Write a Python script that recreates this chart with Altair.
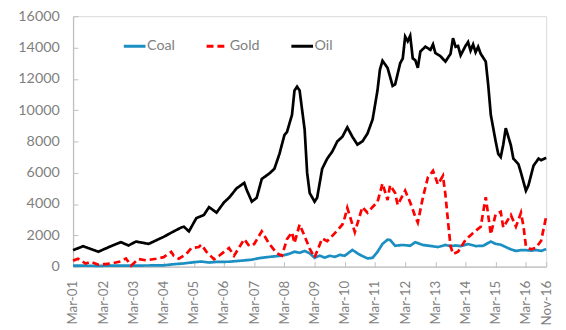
import altair as alt
import pandas as pd

# ---------------- data ----------------
series_names = ["Coal", "Gold", "Oil"]
series_colors = ["#1b8ec2", "#ff0000", "#000000"]

oil_dates = ["2001-03", "2001-07", "2002-01", "2002-06", "2002-10", "2003-01", "2003-04", "2003-09",
             "2003-11", "2004-03", "2004-07", "2004-10", "2004-11", "2005-01", "2005-04", "2005-07",
             "2005-09", "2005-12", "2006-03", "2006-05", "2006-08", "2006-11", "2006-12", "2007-02",
             "2007-04", "2007-06", "2007-09", "2007-11", "2008-01", "2008-03", "2008-04", "2008-06",
             "2008-07", "2008-08", "2008-09", "2008-11", "2008-12", "2009-01", "2009-03", "2009-04",
             "2009-06", "2009-08", "2009-10", "2009-12", "2010-02", "2010-04", "2010-06", "2010-08",
             "2010-10", "2010-12", "2011-02", "2011-04", "2011-05", "2011-06", "2011-08", "2011-10",
             "2011-11", "2012-01", "2012-02", "2012-03", "2012-04", "2012-05", "2012-06", "2012-07",
             "2012-08", "2012-09", "2012-11", "2013-01", "2013-02", "2013-03", "2013-05", "2013-07",
             "2013-09", "2013-10", "2013-11", "2013-12", "2014-01", "2014-03", "2014-04", "2014-05",
             "2014-06", "2014-07", "2014-08", "2014-09", "2014-11", "2014-12", "2015-01", "2015-03",
             "2015-04", "2015-05", "2015-06", "2015-07", "2015-09", "2015-10", "2015-12", "2016-01",
             "2016-03", "2016-04", "2016-06", "2016-08", "2016-09", "2016-11"]
oil_values = [1050, 1300, 950, 1300, 1560, 1350, 1600, 1450,
              1600, 1900, 2250, 2500, 2550, 2250, 3100, 3300,
              3800, 3450, 4100, 4400, 5000, 5350, 4900, 4150,
              4400, 5600, 5950, 6250, 7200, 8400, 8600, 9700,
              11250, 11500, 11250, 8750, 6000, 4700, 4150, 4400,
              6250, 6900, 7350, 8000, 8300, 8900, 8300, 7800,
              8000, 8500, 9400, 11250, 12600, 13150, 12700, 11550,
              11650, 13000, 13300, 14700, 14400, 14750, 13300, 13200,
              12700, 13750, 14050, 13850, 14200, 13650, 13450, 13100,
              13600, 14600, 14050, 14100, 13500, 14100, 14350, 13800,
              14200, 13700, 14050, 13600, 13100, 11600, 9700, 8000,
              7200, 7000, 7800, 8850, 7750, 6900, 6550, 6000,
              4850, 5200, 6450, 6900, 6800, 6950]

gold_dates = ["2001-03", "2001-05", "2001-08", "2001-10", "2002-01", "2002-06", "2002-10", "2002-12",
              "2003-02", "2003-05", "2003-08", "2003-12", "2004-03", "2004-06", "2004-07", "2004-09",
              "2004-12", "2005-02", "2005-05", "2005-06", "2005-08", "2005-11", "2006-01", "2006-03",
              "2006-05", "2006-07", "2006-11", "2007-01", "2007-03", "2007-06", "2007-09", "2007-12",
              "2008-02", "2008-04", "2008-06", "2008-07", "2008-09", "2008-11", "2009-01", "2009-03",
              "2009-06", "2009-08", "2009-12", "2010-02", "2010-03", "2010-04", "2010-07", "2010-10",
              "2010-12", "2011-02", "2011-04", "2011-06", "2011-08", "2011-09", "2011-11", "2011-12",
              "2012-03", "2012-05", "2012-07", "2012-08", "2012-10", "2012-12", "2013-02", "2013-04",
              "2013-06", "2013-07", "2013-08", "2013-09", "2013-10", "2013-12", "2014-03", "2014-06",
              "2014-09", "2014-11", "2015-01", "2015-03", "2015-05", "2015-06", "2015-09", "2015-11",
              "2016-01", "2016-02", "2016-03", "2016-05", "2016-07", "2016-09", "2016-11"]
gold_values = [380, 500, 190, 310, 120, 190, 330, 520,
               60, 480, 400, 500, 600, 940, 690, 500,
               810, 1190, 1250, 1400, 940, 470, 690, 940,
               1190, 690, 1750, 1310, 1440, 2250, 1440, 850,
               700, 1750, 2190, 1500, 2690, 1940, 1150, 580,
               1800, 1625, 2300, 2690, 3125, 3750, 2200, 3810,
               3440, 3810, 4125, 5310, 4250, 5200, 4700, 3940,
               4850, 4100, 3200, 2820, 4400, 5700, 6125, 5250,
               5800, 4600, 2900, 1300, 810, 950, 1700, 2150,
               2550, 4440, 2060, 3350, 3500, 2500, 3300, 2550,
               3440, 2550, 1300, 1100, 1200, 1650, 3200]

coal_dates = ["2001-03", "2002-01", "2002-11", "2003-09", "2004-03", "2004-07", "2004-11", "2005-03",
              "2005-06", "2005-09", "2005-12", "2006-05", "2006-10", "2007-02", "2007-05", "2007-09",
              "2008-02", "2008-05", "2008-07", "2008-09", "2008-11", "2009-01", "2009-03", "2009-05",
              "2009-07", "2009-09", "2009-11", "2010-01", "2010-03", "2010-06", "2010-09", "2010-12",
              "2011-02", "2011-04", "2011-06", "2011-08", "2011-09", "2011-11", "2012-02", "2012-05",
              "2012-07", "2012-10", "2013-01", "2013-04", "2013-07", "2013-09", "2013-11", "2014-01",
              "2014-04", "2014-07", "2014-10", "2015-01", "2015-03", "2015-05", "2015-07", "2015-09",
              "2015-11", "2016-01", "2016-03", "2016-05", "2016-07", "2016-09", "2016-11"]
coal_values = [60, 50, 60, 70, 80, 150, 200, 280,
               320, 260, 300, 310, 380, 440, 540, 620,
               700, 820, 950, 880, 1000, 850, 560, 700,
               570, 690, 620, 750, 690, 1060, 750, 520,
               560, 940, 1450, 1720, 1700, 1330, 1380, 1330,
               1560, 1380, 1320, 1250, 1380, 1310, 1350, 1310,
               1440, 1310, 1330, 1600, 1450, 1400, 1250, 1100,
               1000, 1050, 1050, 1020, 1060, 1000, 1120]

y_ticks = [0, 2000, 4000, 6000, 8000, 10000, 12000, 14000, 16000]
x_tick_years = list(range(2001, 2017))  # every March, labelled "Mar-YY", plus Nov-16

# ---------------- table ----------------
rows = []
for name, dates, vals in [("Coal", coal_dates, coal_values),
                          ("Gold", gold_dates, gold_values),
                          ("Oil", oil_dates, oil_values)]:
    for d, v in zip(dates, vals):
        rows.append({"series": name, "date": pd.Timestamp(d + "-01"), "value": v})
df = pd.DataFrame(rows)

tick_dates = [alt.DateTime(year=y, month=3, date=1) for y in x_tick_years] + \
             [alt.DateTime(year=2016, month=11, date=1)]
x_domain = [alt.DateTime(year=2001, month=3, date=1), alt.DateTime(year=2016, month=11, date=1)]

GRAY_TXT = "#7f7f7f"
GRAY_LN = "#bfbfbf"
FONT = "Lato"
FS = 14.5

legend = alt.Legend(orient="none", legendX=50, legendY=18, direction="horizontal", title=None,
                    symbolType="stroke", symbolSize=484, symbolStrokeWidth=3,
                    labelFont=FONT, labelFontSize=FS, labelColor=GRAY_TXT,
                    columnPadding=25, labelOffset=0, padding=0)

base = alt.Chart(df)

lines = base.mark_line(strokeWidth=2.75).encode(
    x=alt.X("date:T",
            scale=alt.Scale(domain=x_domain, nice=False),
            axis=alt.Axis(orient="bottom", values=tick_dates, format="%b-%y", labelAngle=270,
                          labelPadding=14, tickSize=0, domainColor=GRAY_LN, domainWidth=1.3,
                          grid=False, title=None, labelColor=GRAY_TXT, labelFont=FONT,
                          labelFontSize=13.5, labelFlush=False, labelOverlap=False)),
    y=alt.Y("value:Q",
            scale=alt.Scale(domain=[0, 16000], nice=False),
            axis=alt.Axis(orient="left", values=y_ticks, format="d", tickSize=0, labelPadding=14,
                          domainColor=GRAY_LN, domainWidth=1.3, grid=False, title=None,
                          labelColor=GRAY_TXT, labelFont=FONT, labelFontSize=FS)),
    color=alt.Color("series:N", scale=alt.Scale(domain=series_names, range=series_colors), legend=legend),
    strokeDash=alt.StrokeDash("series:N",
                              scale=alt.Scale(domain=series_names, range=[[1, 0], [7, 4], [1, 0]]),
                              legend=legend),
)

# inward tick marks (Excel style) via offset axes
ticks = base.mark_point(opacity=0, size=1).encode(
    x=alt.X("date:T",
            axis=alt.Axis(orient="bottom", values=tick_dates, labels=False, domain=False, tickSize=5,
                          tickColor=GRAY_LN, offset=-5, grid=False, title=None)),
    y=alt.Y("value:Q",
            axis=alt.Axis(orient="left", values=y_ticks, labels=False, domain=False, tickSize=5,
                          tickColor=GRAY_LN, offset=-5, grid=False, title=None)),
)

chart = alt.layer(lines, ticks).resolve_axis(x="independent", y="independent").properties(
    width=480, height=254,
    autosize=alt.AutoSizeParams(type="none"),
    padding={"left": 66, "top": 6, "right": 12, "bottom": 62},
).configure(font=FONT).configure_view(stroke="#d9d9d9", strokeWidth=1)

chart.save("out.html", embed_options={"renderer": "svg", "actions": False})
